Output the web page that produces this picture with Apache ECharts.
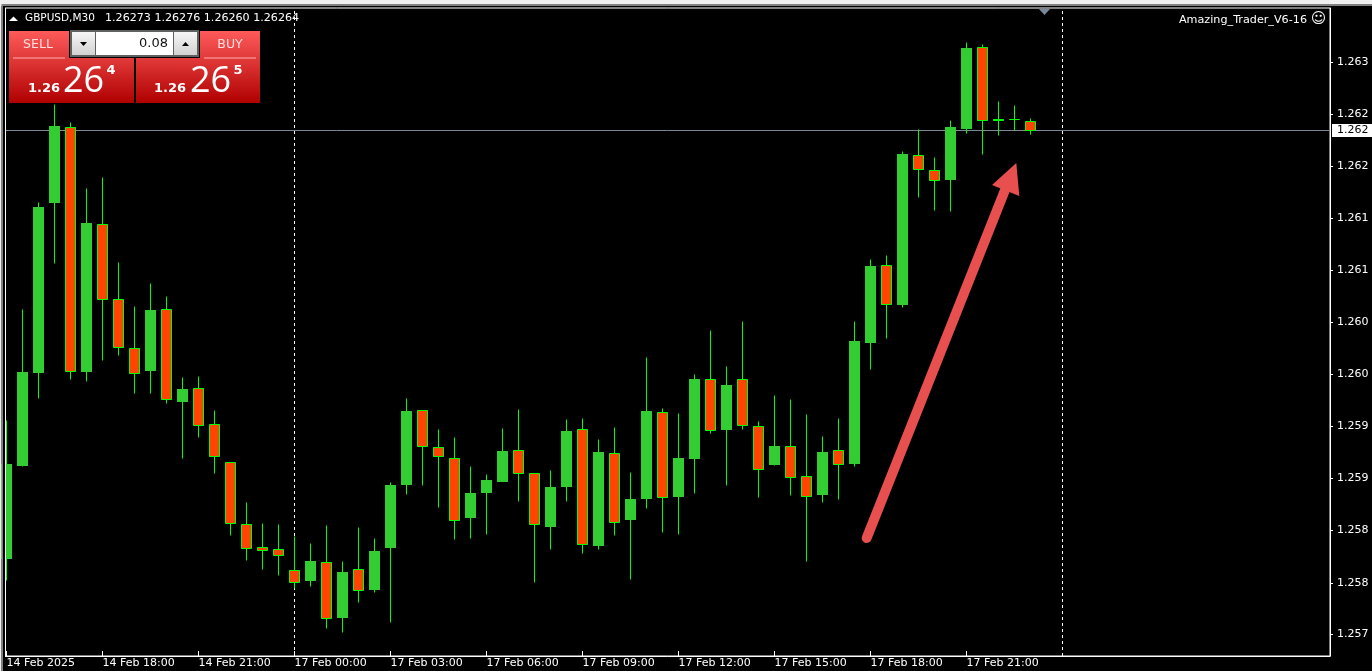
<!DOCTYPE html>
<html>
<head>
<meta charset="utf-8">
<title>GBPUSD M30</title>
<style>html,body{margin:0;padding:0;background:#000;overflow:hidden}#chart{width:1372px;height:671px}</style>
<script src="https://cdn.jsdelivr.net/npm/echarts@6/dist/echarts.min.js"></script>
</head>
<body>
<div id="chart"></div>
<script>
const opens = [1.25836,1.25929,1.26022,1.26192,1.26267,1.26023,1.26170,1.26095,1.26046,1.26024,1.26085,1.25993,1.26006,1.25970,1.25932,1.25870,1.25847,1.25845,1.25824,1.25814,1.25832,1.25777,1.25825,1.25805,1.25847,1.25910,1.25984,1.25947,1.25936,1.25877,1.25902,1.25913,1.25944,1.25921,1.25868,1.25908,1.25965,1.25849,1.25941,1.25875,1.25896,1.25982,1.25898,1.25936,1.26015,1.25965,1.26015,1.25968,1.25930,1.25948,1.25918,1.25900,1.25944,1.25931,1.26052,1.26129,1.26090,1.26239,1.26224,1.26215,1.26266,1.26347,1.26275,1.26275,1.26273];
const closes = [1.25930,1.26022,1.26187,1.26268,1.26023,1.26171,1.26095,1.26047,1.26021,1.26084,1.25995,1.26005,1.25969,1.25938,1.25871,1.25846,1.25844,1.25839,1.25812,1.25833,1.25776,1.25822,1.25804,1.25843,1.25909,1.25983,1.25948,1.25938,1.25874,1.25901,1.25914,1.25943,1.25921,1.25870,1.25907,1.25963,1.25850,1.25942,1.25872,1.25895,1.25983,1.25897,1.25936,1.26015,1.25964,1.26009,1.25969,1.25925,1.25948,1.25917,1.25898,1.25942,1.25930,1.26053,1.26128,1.26090,1.26240,1.26225,1.26214,1.26267,1.26346,1.26274,1.26274,1.26275,1.26264];
const lows = [1.25814,1.25928,1.25996,1.26131,1.26015,1.26013,1.26034,1.26039,1.26001,1.26001,1.25991,1.25936,1.25957,1.25921,1.25859,1.25834,1.25825,1.25819,1.25806,1.25808,1.25766,1.25762,1.25792,1.25802,1.25772,1.25900,1.25909,1.25887,1.25855,1.25856,1.25860,1.25913,1.25893,1.25812,1.25845,1.25893,1.25841,1.25845,1.25859,1.25815,1.25886,1.25862,1.25860,1.25901,1.25961,1.25909,1.25965,1.25897,1.25929,1.25899,1.25833,1.25892,1.25895,1.25928,1.26025,1.26056,1.26087,1.26197,1.26184,1.26183,1.26261,1.26240,1.26259,1.26264,1.26260];
const highs = [1.25974,1.26085,1.26192,1.26290,1.26272,1.26206,1.26217,1.26132,1.26088,1.26111,1.26098,1.26017,1.26018,1.25984,1.25932,1.25892,1.25871,1.25870,1.25858,1.25851,1.25869,1.25833,1.25867,1.25856,1.25912,1.25996,1.25984,1.25965,1.25957,1.25928,1.25920,1.25966,1.25985,1.25921,1.25924,1.25975,1.25976,1.25955,1.25967,1.25922,1.26037,1.25986,1.25981,1.26020,1.26064,1.26028,1.26073,1.25973,1.25999,1.25995,1.25980,1.25958,1.25976,1.26073,1.26135,1.26139,1.26243,1.26265,1.26237,1.26274,1.26352,1.26350,1.26293,1.26289,1.26276];

const timeTickIndex = [0,6,12,18,24,30,36,42,48,54,60];
const timeTickLabels = ['14 Feb 2025','14 Feb 18:00','14 Feb 21:00','17 Feb 00:00','17 Feb 03:00','17 Feb 06:00','17 Feb 09:00','17 Feb 12:00','17 Feb 15:00','17 Feb 18:00','17 Feb 21:00'];
const priceTicks = [1.26332,1.26280,1.26228,1.26176,1.26124,1.26072,1.26020,1.25968,1.25916,1.25864,1.25811,1.25760];
const priceTickLabels = ['1.263','1.262','1.262','1.261','1.261','1.260','1.260','1.259','1.259','1.258','1.258','1.257'];
const periodSeparators = [18, 66];
const lastPrice = 1.26264;
const lastPriceLabel = '1.262';
const headerSymbol = 'GBPUSD,M30';
const headerOHLC = '1.26273 1.26276 1.26260 1.26264';
const indicatorName = 'Amazing_Trader_V6-16';

const UP = '#32CD32', DOWN = '#FF4500', WICK = '#00FF00';
const UIFONT = '"DejaVu Sans"';

const allCandles = opens.map((o,i)=>[i,o,closes[i],lows[i],highs[i]]);
const upBodies = opens.map((o,i)=>[i,o,closes[i],o,closes[i]]).filter(d=>d[2]>d[1]);

const redGrad = (a,b)=>new echarts.graphic.LinearGradient(0,0,0,1,[{offset:0,color:a},{offset:1,color:b}]);
const txt = (x,y,text,font,fill,align)=>({type:'text',z:30,silent:true,style:{x,y,text,font,fill,textAlign:align||'left',textVerticalAlign:'middle'}});
const rect = (x,y,w,h,fill,z)=>({type:'rect',z:z||30,silent:true,shape:{x,y,width:w,height:h},style:{fill}});
const poly = (points,fill,z)=>({type:'polygon',z:z||30,silent:true,shape:{points},style:{fill}});

const graphics = [
  // window chrome
  rect(0,0,1372,4,'#f0f0f0'), rect(0,4,1372,2,'#808080'),
  rect(0,4,1.5,667,'#f0f0f0'), rect(1.5,6,1.5,665,'#808080'),
  rect(3,6,2,665,'#000'), rect(5,8,1,648,'#fff'),
  // header
  poly([[9,21],[13.5,16.5],[18,21]],'#fff'),
  txt(25,18.5,headerSymbol,'10.5px '+UIFONT,'#fff'),
  txt(105,18.5,headerOHLC,'11.1px '+UIFONT,'#fff'),
  // indicator
  txt(1307,20,indicatorName,'11.2px '+UIFONT,'#fff','right'),
  txt(1318.5,19.5,'\u263A','15px "DejaVu Sans"','#fff','center'),
  // shift marker
  poly([[1039,9],[1050,9],[1044.5,15]],'#778899'),
  // trade panel
  rect(9,31,60,27,redGrad('#ff5a5a','#e03a3a')),
  rect(13,57.5,52,1,'#ffb0b0',31),
  txt(38,45,'SELL','12.5px '+UIFONT,'#ffe0e0','center'),
  rect(200,31,60,27,redGrad('#ff5a5a','#e03a3a')),
  rect(204,57.5,52,1,'#ffb0b0',31),
  txt(230,45,'BUY','12.5px '+UIFONT,'#ffe0e0','center'),
  rect(9,58,125,45,redGrad('#e23a3a','#b00000')),
  rect(136,58,124,45,redGrad('#e23a3a','#b00000')),
  txt(44,89,'1.26','bold 13px '+UIFONT,'#fff','center'),
  txt(83.5,82,'26','36px "Open Sans"','#fff','center'),
  txt(111,71,'4','bold 13px '+UIFONT,'#fff','center'),
  txt(170,89,'1.26','bold 13px '+UIFONT,'#fff','center'),
  txt(210.5,82,'26','36px "Open Sans"','#fff','center'),
  txt(238,71,'5','bold 13px '+UIFONT,'#fff','center'),
  rect(70,30,129,27,'#5f6060',32),
  rect(72,32,23,23,redGrad('#f6f6f6','#d2d2d2'),33),
  rect(96,32,77,23,'#ffffff',33),
  rect(174,32,23,23,redGrad('#f6f6f6','#d2d2d2'),33),
  poly([[80,42],[87,42],[83.5,46]],'#000',34),
  poly([[182,46],[189,46],[185.5,42]],'#000',34),
  Object.assign(txt(168,43.5,'0.08','13px '+UIFONT,'#111','right'),{z:34}),
  // annotation arrow
  {type:'line',z:20,silent:true,shape:{x1:866.7,y1:538,x2:1005,y2:190},style:{stroke:'#E85050',lineWidth:10,lineCap:'round'}},
  poly([[1016.3,163],[992,185],[1019.3,196]],'#E85050',20)
];

const chart = echarts.init(document.getElementById('chart'), null, {renderer:'canvas'});
chart.setOption({
  animation:false,
  backgroundColor:'#000',
  grid:{left:5,right:42,top:8,bottom:15,show:true,borderColor:'#fff',borderWidth:1,backgroundColor:'#000'},
  xAxis:{
    type:'value',min:-0.09375,max:82.71875,splitLine:{show:false},
    axisLine:{show:true,onZero:false,lineStyle:{color:'#fff'}},
    axisTick:{show:true,inside:true,length:5,lineStyle:{color:'#fff'},customValues:timeTickIndex},
    axisLabel:{show:true,color:'#fff',fontFamily:UIFONT,fontSize:11,align:'left',margin:2,hideOverlap:false,
      customValues:timeTickIndex,formatter:v=>timeTickLabels[timeTickIndex.indexOf(Math.round(v))]||''}
  },
  yAxis:{
    type:'value',position:'right',min:1.257385,max:1.263865,scale:true,splitLine:{show:false},
    axisLine:{show:true,onZero:false,lineStyle:{color:'#fff'}},
    axisTick:{show:true,length:3,lineStyle:{color:'#fff'},customValues:priceTicks},
    axisLabel:{show:true,color:'#fff',fontFamily:UIFONT,fontSize:11,margin:7,padding:[4,0,0,0],hideOverlap:false,showMinLabel:true,showMaxLabel:true,
      customValues:priceTicks,formatter:v=>{const k=priceTicks.findIndex(t=>Math.abs(t-v)<1e-7);return k>=0?priceTickLabels[k]:'';}}
  },
  series:[
    {type:'candlestick',name:'GBPUSD',data:allCandles,encode:{x:0,y:[1,2,3,4]},barWidth:10,clip:true,z:3,silent:true,
      itemStyle:{color:UP,color0:DOWN,borderColor:WICK,borderColor0:WICK,borderWidth:1},
      markLine:{silent:true,symbol:'none',animation:false,z:1,precision:5,
        data:[
          ...periodSeparators.map(v=>({xAxis:v,lineStyle:{color:'#fff',type:[3,3],width:1},label:{show:false}})),
          {yAxis:lastPrice,lineStyle:{color:'#778899',type:'solid',width:1},
            label:{show:true,position:'end',formatter:lastPriceLabel,color:'#000',backgroundColor:'#fff',fontFamily:UIFONT,fontSize:11,padding:[2,6,0,5],distance:2}}
        ]}
    },
    {type:'candlestick',name:'GBPUSD up bodies',data:upBodies,encode:{x:0,y:[1,2,3,4]},barWidth:10,clip:true,z:4,silent:true,
      itemStyle:{color:UP,color0:UP,borderColor:UP,borderColor0:UP,borderWidth:1}}
  ],
  graphic:graphics
});
</script>
</body>
</html>
